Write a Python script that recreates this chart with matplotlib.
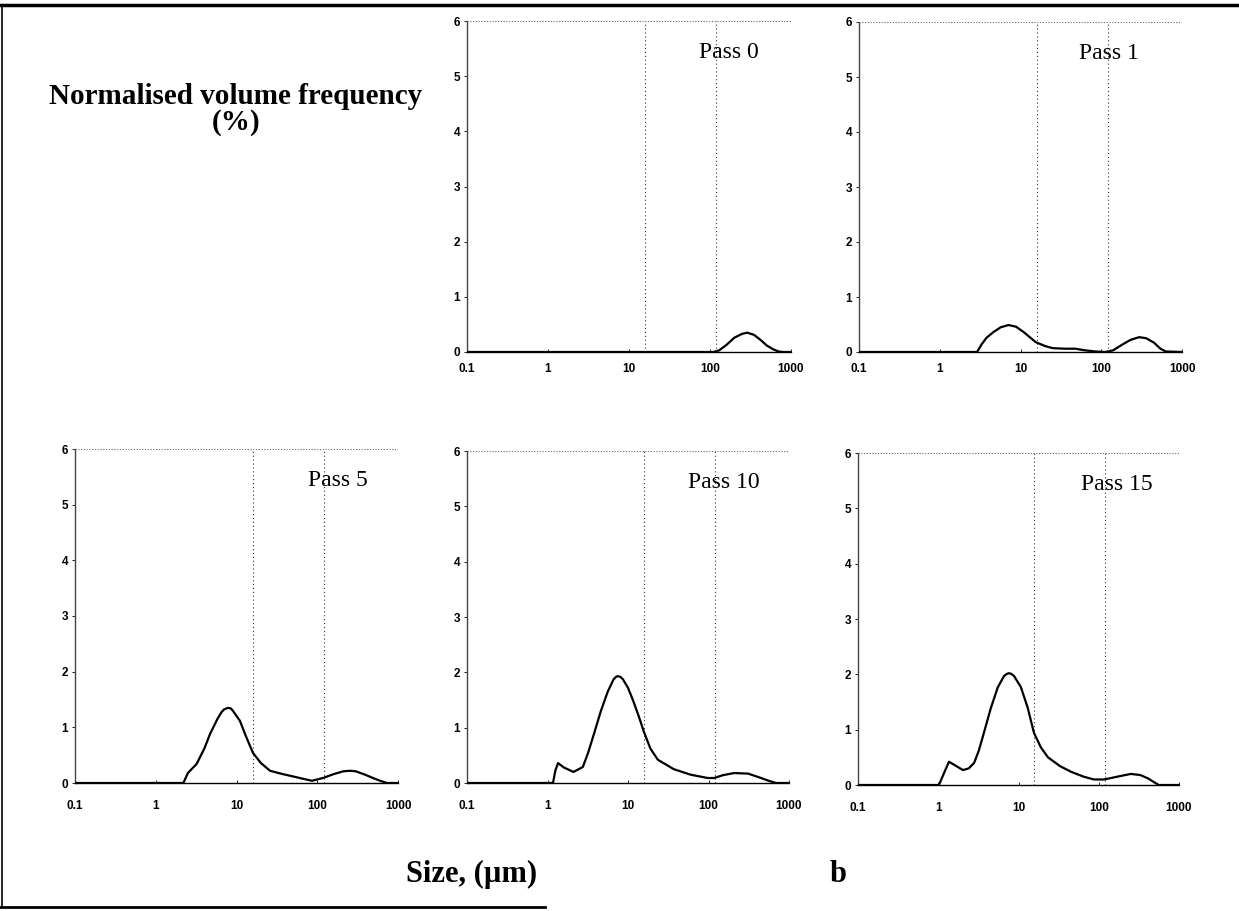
"""
Particle size distributions after successive homogeniser passes (panel b).
"""

import matplotlib

matplotlib.use("Agg")
import matplotlib.pyplot as plt
from matplotlib.lines import Line2D
from matplotlib.ticker import FixedLocator, NullLocator

# Values (size in um, normalised volume frequency in %).
PASS0_SIZE = [0.1, 1, 10, 110, 130, 160, 200, 250, 290, 350, 420, 500, 600, 700, 800, 1000]
PASS0_FREQ = [0, 0, 0, 0, 0.03, 0.13, 0.26, 0.33, 0.35, 0.31, 0.22, 0.12, 0.05, 0.01, 0, 0]

PASS1_SIZE = [0.1, 1, 2.9, 3.3, 3.8, 4.6, 5.7, 7.1, 8.8, 11, 15.4, 20, 25, 35, 48, 63, 85,
              112, 140, 180, 230, 295, 360, 450, 540, 630, 1000]
PASS1_FREQ = [0, 0, 0, 0.14, 0.26, 0.36, 0.45, 0.49, 0.46, 0.36, 0.18, 0.11, 0.07, 0.06,
              0.06, 0.03, 0.01, 0, 0.03, 0.13, 0.22, 0.27, 0.25, 0.17, 0.06, 0.01, 0]

PASS5_SIZE = [0.1, 1, 2.2, 2.5, 3.2, 4.0, 4.7, 5.8, 6.5, 7.0, 7.8, 8.5, 9.0, 11, 13, 16, 20,
              26, 35, 46, 65, 86, 118, 160, 210, 256, 300, 390, 490, 600, 730, 1000]
PASS5_FREQ = [0, 0, 0, 0.18, 0.34, 0.62, 0.88, 1.15, 1.27, 1.32, 1.35, 1.34, 1.30, 1.12,
              0.85, 0.54, 0.36, 0.22, 0.17, 0.13, 0.08, 0.04, 0.09, 0.16, 0.21, 0.22,
              0.21, 0.15, 0.09, 0.04, 0, 0]

PASS10_SIZE = [0.1, 1, 1.17, 1.25, 1.35, 1.6, 2.1, 2.75, 3.2, 3.8, 4.6, 5.6, 6.6, 7.1, 7.5,
               8.0, 8.6, 10, 11.5, 13.5, 15.8, 19, 23.5, 37, 60, 98, 117, 150, 208, 310,
               450, 560, 690, 1000]
PASS10_FREQ = [0, 0, 0, 0.22, 0.36, 0.28, 0.20, 0.29, 0.55, 0.90, 1.30, 1.65, 1.87, 1.92,
               1.93, 1.92, 1.88, 1.72, 1.50, 1.22, 0.92, 0.62, 0.42, 0.25, 0.15, 0.09,
               0.09, 0.14, 0.18, 0.17, 0.09, 0.04, 0, 0]

PASS15_SIZE = [0.1, 1, 1.02, 1.2, 1.36, 1.6, 2.03, 2.4, 2.8, 3.2, 3.7, 4.5, 5.5, 6.6, 7.2,
               7.6, 8.1, 8.8, 10.7, 13, 15.6, 19, 23.3, 33, 45, 65, 87, 117, 170, 250,
               330, 410, 490, 560, 1000]
PASS15_FREQ = [0, 0, 0, 0.24, 0.42, 0.36, 0.27, 0.30, 0.40, 0.62, 0.94, 1.38, 1.76, 1.97,
               2.01, 2.02, 2.01, 1.97, 1.77, 1.40, 0.94, 0.68, 0.50, 0.34, 0.24, 0.15,
               0.10, 0.10, 0.15, 0.20, 0.18, 0.12, 0.05, 0, 0]

PANEL_LABELS = ["Pass 0", "Pass 1", "Pass 5", "Pass 10", "Pass 15"]
PANEL_SIZES = [PASS0_SIZE, PASS1_SIZE, PASS5_SIZE, PASS10_SIZE, PASS15_SIZE]
PANEL_FREQS = [PASS0_FREQ, PASS1_FREQ, PASS5_FREQ, PASS10_FREQ, PASS15_FREQ]

X_TICKS = [0.1, 1, 10, 100, 1000]
X_TICK_LABELS = ["0.1", "1", "10", "100", "1000"]
Y_TICKS = [0, 1, 2, 3, 4, 5, 6]
GRID_X = [15.8, 120]

W, H = 1239, 911
# axes rectangles in pixels: left, top, right, bottom
PANEL_PX = [
    (467, 21, 791, 352),
    (859, 22, 1182, 352),
    (75, 449, 398, 783),
    (467, 451, 789, 783),
    (858, 453, 1179, 785),
]
LABEL_X = [0.715, 0.68, 0.72, 0.686, 0.695]
XPAD = [8, 8, 12, 12, 12]

SERIF = ["Liberation Serif", "DejaVu Serif"]
SANS = ["Liberation Sans", "DejaVu Sans"]


def main() -> None:
    fig = plt.figure(figsize=(W / 100, H / 100), dpi=100)

    for i, (l, t, r, b) in enumerate(PANEL_PX):
        ax = fig.add_axes([l / W, 1 - b / H, (r - l) / W, (b - t) / H])
        ax.set_xscale("log")
        ax.set_xlim(0.1, 1000)
        ax.set_ylim(0, 6)

        for gx in GRID_X:
            ax.axvline(gx, color="#333333", lw=0.8, ls=(0, (1, 2.5)), zorder=1)
        ax.axvline(1000, color="#999999", lw=0.8, ls=(0, (1, 3)), zorder=1)
        ax.axhline(6, color="#666666", lw=0.8, ls=(0, (1, 1.5)), zorder=1)

        ax.plot(PANEL_SIZES[i], PANEL_FREQS[i], color="black", lw=1.6,
                solid_joinstyle="round", zorder=3)

        for side in ("top", "right"):
            ax.spines[side].set_visible(False)
        ax.spines["left"].set_color("#444444")
        ax.spines["left"].set_linestyle((0, (3, 1, 1, 1)))
        ax.spines["left"].set_linewidth(1.0)
        ax.spines["bottom"].set_color("black")
        ax.spines["bottom"].set_linewidth(1.0)

        ax.xaxis.set_major_locator(FixedLocator(X_TICKS))
        ax.xaxis.set_minor_locator(NullLocator())
        ax.set_xticklabels(X_TICK_LABELS)
        ax.set_yticks(Y_TICKS)
        ax.tick_params(axis="x", direction="in", length=2, width=0.6, pad=XPAD[i])
        ax.tick_params(axis="y", direction="out", length=2, width=0.6, pad=3)
        for lab in ax.get_xticklabels() + ax.get_yticklabels():
            lab.set_family(SANS)
            lab.set_fontweight("bold")
            lab.set_fontsize(8.5)

        ax.text(LABEL_X[i], 0.905, PANEL_LABELS[i], transform=ax.transAxes,
                ha="left", va="center", fontsize=17, family=SERIF)

    fig.text(236 / W, 1 - 97 / H, "Normalised volume frequency", ha="center",
             va="center", fontsize=21, fontweight="bold", family=SERIF)
    fig.text(236 / W, 1 - 123 / H, "(%)", ha="center",
             va="center", fontsize=21, fontweight="bold", family=SERIF)
    fig.text(472 / W, 1 - 874 / H, "Size, (\u00b5m)", ha="center", va="center",
             fontsize=22, fontweight="bold", family=SERIF)
    fig.text(838 / W, 1 - 874 / H, "b", ha="center", va="center",
             fontsize=22, fontweight="bold", family=SERIF)

    # scanned page frame
    fig.add_artist(Line2D([0, 1], [1 - 5 / H, 1 - 5 / H], transform=fig.transFigure,
                          color="black", lw=2.5))
    fig.add_artist(Line2D([2 / W, 2 / W], [1 - 5 / H, 1 - 907 / H], transform=fig.transFigure,
                          color="black", lw=1.2))
    fig.add_artist(Line2D([0, 545 / W], [1 - 907 / H, 1 - 907 / H], transform=fig.transFigure,
                          color="black", lw=2.0))

    fig.savefig("out.png", dpi=100)
    plt.close(fig)


if __name__ == "__main__":
    main()
